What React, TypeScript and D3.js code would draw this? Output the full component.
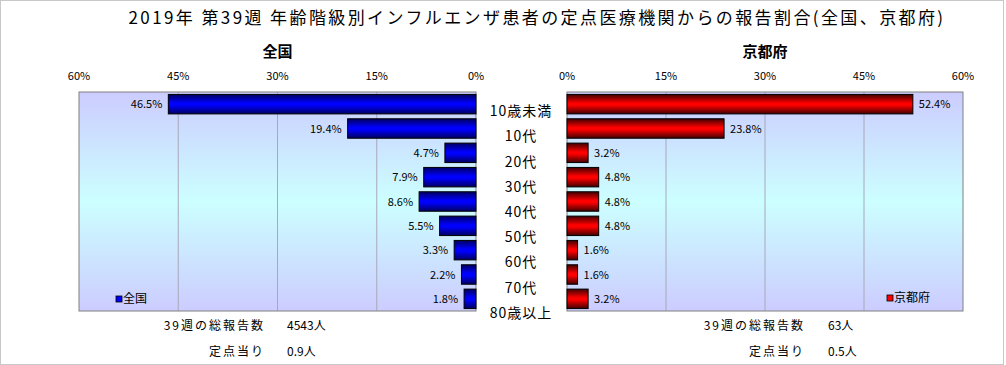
import React from 'react';
import * as d3 from 'd3';

const categories = ['10歳未満', '10代', '20代', '30代', '40代', '50代', '60代', '70代', '80歳以上'];
const nationalValues = [46.5, 19.4, 4.7, 7.9, 8.6, 5.5, 3.3, 2.2, 1.8];
const kyotoValues = [52.4, 23.8, 3.2, 4.8, 4.8, 4.8, 1.6, 1.6, 3.2];
const tickValues = [0, 15, 30, 45, 60];

const W = 1006;
const H = 365;
const FONT = '"Noto Sans CJK JP", "DejaVu Sans", sans-serif';

const App = () => {
  const top = 92;
  const bottom = 311;
  const leftX = d3.scaleLinear().domain([60, 0]).range([79, 476]);
  const rightX = d3.scaleLinear().domain([0, 60]).range([567, 963]);
  const y = d3.scaleBand<string>().domain(categories).range([top, bottom]).paddingInner(0.2).paddingOuter(0.1);
  const labelY = d3.scaleBand<string>().domain(categories).range([98.5, 325.5]);

  const panel = (
    side: 'left' | 'right',
    x: d3.ScaleLinear<number, number>,
    values: number[],
    fillId: string,
    title: string,
    legendColor: string
  ) => {
    const [r0, r1] = x.range();
    const x0 = Math.min(r0, r1);
    const x1 = Math.max(r0, r1);
    const zero = x(0);
    return (
      <g>
        <rect x={x0} y={top} width={x1 - x0} height={bottom - top} fill="url(#plotbg)" />
        {tickValues.filter(t => t !== 0 && t !== 60).map(t => (
          <line key={t} x1={x(t)} x2={x(t)} y1={top} y2={bottom} stroke="#a8a8b8" strokeWidth={1} />
        ))}
        <rect x={x0} y={top} width={x1 - x0} height={bottom - top} fill="none" stroke="#808080" strokeWidth={1} />
        {tickValues.map(t => (
          <text key={t} x={x(t)} y={80} fontSize={11} textAnchor="middle" fill="#000">{t}%</text>
        ))}
        <text x={(x0 + x1) / 2} y={57} fontSize={15} fontWeight="bold" textAnchor="middle">{title}</text>
        {values.map((v, i) => {
          const c = categories[i];
          const xe = x(v);
          const bx = Math.min(zero, xe);
          const bw = Math.abs(xe - zero);
          const yy = y(c)!;
          return (
            <g key={c}>
              <rect x={bx} y={yy} width={bw} height={y.bandwidth()} fill={`url(#${fillId})`} stroke="#000" strokeWidth={1} />
              <text
                x={side === 'left' ? xe - 6 : xe + 6}
                y={yy + y.bandwidth() / 2 + 4}
                fontSize={11}
                textAnchor={side === 'left' ? 'end' : 'start'}
              >{v.toFixed(1)}%</text>
            </g>
          );
        })}
        {side === 'left' ? (
          <g>
            <rect x={116} y={296} width={6} height={6} fill={legendColor} stroke="#000" strokeWidth={0.8} />
            <text x={123} y={303} fontSize={12}>全国</text>
          </g>
        ) : (
          <g>
            <rect x={887} y={295} width={6} height={6} fill={legendColor} stroke="#000" strokeWidth={0.8} />
            <text x={894} y={302} fontSize={12}>京都府</text>
          </g>
        )}
      </g>
    );
  };

  return (
    <svg width={W} height={H} style={{ position: 'absolute', left: 0, top: 0, fontFamily: FONT }}>
      <defs>
        <linearGradient id="plotbg" x1="0" y1="0" x2="0" y2="1">
          <stop offset="0" stopColor="#ccccff" />
          <stop offset="0.5" stopColor="#ccffff" />
          <stop offset="1" stopColor="#ccccff" />
        </linearGradient>
        <linearGradient id="blueBar" x1="0" y1="0" x2="0" y2="1">
          <stop offset="0" stopColor="#000060" />
          <stop offset="0.45" stopColor="#0000ff" />
          <stop offset="0.55" stopColor="#0000ff" />
          <stop offset="1" stopColor="#000060" />
        </linearGradient>
        <linearGradient id="redBar" x1="0" y1="0" x2="0" y2="1">
          <stop offset="0" stopColor="#400000" />
          <stop offset="0.45" stopColor="#ff0000" />
          <stop offset="0.55" stopColor="#ff0000" />
          <stop offset="1" stopColor="#400000" />
        </linearGradient>
      </defs>
      <rect x={0.5} y={0.5} width={W - 3} height={H - 1} fill="#fff" stroke="#c8c8c8" />
      <text x={537} y={24} fontSize={17} letterSpacing={2.4} textAnchor="middle">2019年 第39週 年齢階級別インフルエンザ患者の定点医療機関からの報告割合(全国、京都府)</text>
      {panel('left', leftX, nationalValues, 'blueBar', '全国', '#0000ff')}
      {panel('right', rightX, kyotoValues, 'redBar', '京都府', '#ff0000')}
      {categories.map(c => (
        <text key={c} x={521} y={labelY(c)! + labelY.bandwidth() / 2 + 5} fontSize={14} letterSpacing={1} textAnchor="middle">{c}</text>
      ))}
      <g fontSize={12}>
        <text x={265} y={330} textAnchor="end" letterSpacing={2}>39週の総報告数</text>
        <text x={287} y={330}>4543人</text>
        <text x={265} y={356} textAnchor="end" letterSpacing={2}>定点当り</text>
        <text x={287} y={356}>0.9人</text>
        <text x={805} y={330} textAnchor="end" letterSpacing={2}>39週の総報告数</text>
        <text x={828} y={330}>63人</text>
        <text x={805} y={356} textAnchor="end" letterSpacing={2}>定点当り</text>
        <text x={828} y={356}>0.5人</text>
      </g>
    </svg>
  );
};

export default App;
